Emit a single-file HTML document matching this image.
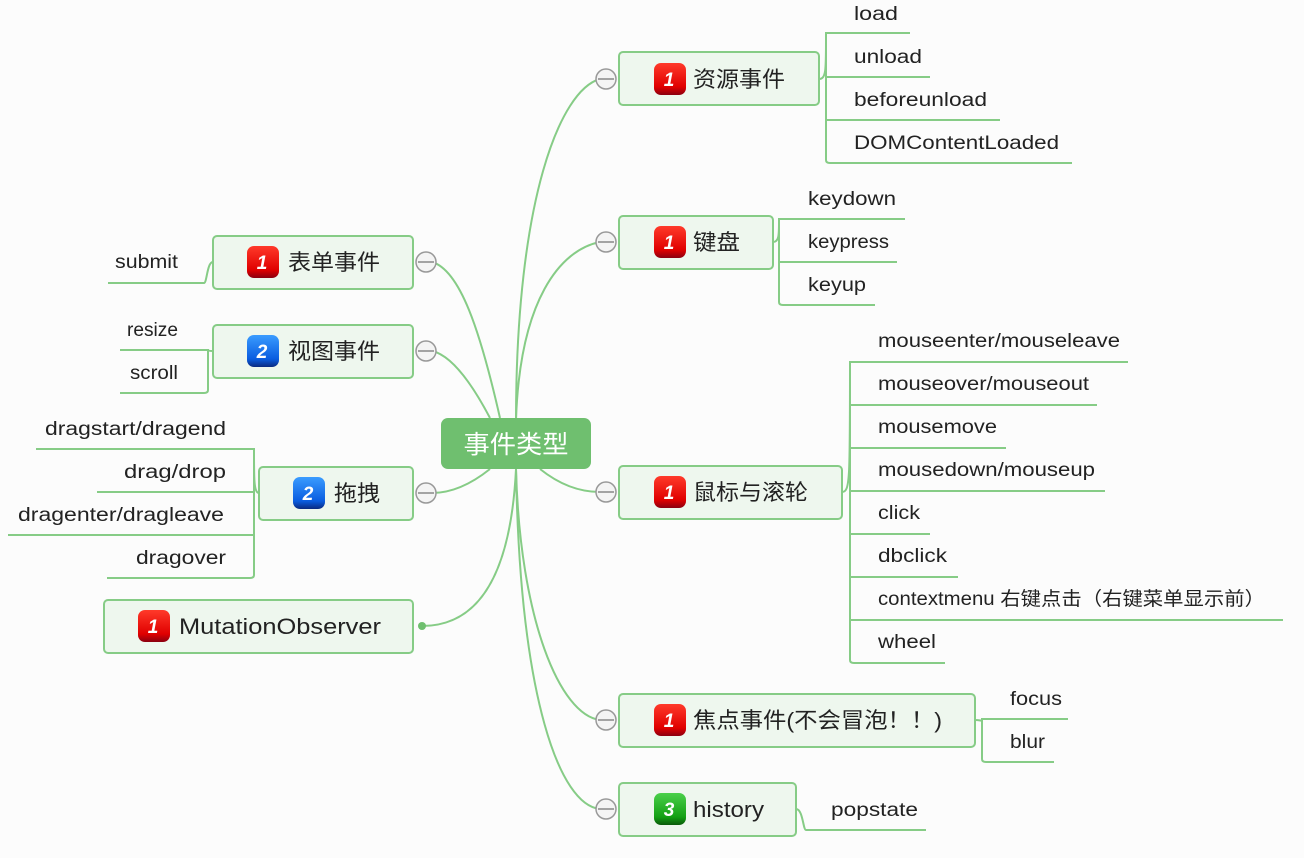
<!DOCTYPE html>
<html><head><meta charset="utf-8"><style>
html,body{margin:0;padding:0;background:#fcfcfc;}
svg{display:block;font-family:"Liberation Sans","Noto Sans CJK SC",sans-serif;}
.l{fill:none;stroke:#86cc86;stroke-width:2;}
.n{fill:#eef7ee;stroke:#86cc86;stroke-width:2;}
.t{font-size:22px;fill:#222;}
.s{font-size:19px;fill:#222;}
.c{fill:#f4f4f4;stroke:#999;stroke-width:1.5;}
.i{font-size:19px;font-style:italic;fill:#fff;font-weight:bold;text-anchor:middle;}
</style></head><body>
<svg width="1304" height="858" viewBox="0 0 1304 858">
<defs>
<linearGradient id="r" x1="0" y1="0" x2="0" y2="1"><stop offset="0" stop-color="#ff3a2a"/><stop offset="0.75" stop-color="#e00000"/><stop offset="1" stop-color="#8a0010"/></linearGradient>
<linearGradient id="b" x1="0" y1="0" x2="0" y2="1"><stop offset="0" stop-color="#3a9cff"/><stop offset="0.75" stop-color="#0a5de0"/><stop offset="1" stop-color="#0a2a80"/></linearGradient>
<linearGradient id="g" x1="0" y1="0" x2="0" y2="1"><stop offset="0" stop-color="#4ad04a"/><stop offset="0.75" stop-color="#14a014"/><stop offset="1" stop-color="#0a5a0a"/></linearGradient>
</defs>
<g class="l">
<path d="M516 420 C516 200 560 90 600 79"/>
<path d="M516 420 C520 300 560 250 600 242"/>
<path d="M540 469 C560 485 580 492 600 492"/>
<path d="M516 469 C520 620 560 715 600 720"/>
<path d="M516 469 C520 700 560 805 600 809"/>
<path d="M500 418 C480 330 460 270 432 262"/>
<path d="M490 418 C470 380 450 355 432 351"/>
<path d="M490 469 C470 485 450 493 432 493"/>
<path d="M516 469 C510 590 470 626 422 626"/>
</g>
<rect x="441" y="418" width="150" height="51" rx="7" fill="#6fbf6f"/>
<text x="516" y="453" font-size="25" fill="#fff" text-anchor="middle" textLength="105" lengthAdjust="spacingAndGlyphs">事件类型</text>

<rect class="n" x="619" y="52" width="200" height="53" rx="4"/>
<rect class="n" x="619" y="216" width="154" height="53" rx="4"/>
<rect class="n" x="619" y="466" width="223" height="53" rx="4"/>
<rect class="n" x="619" y="694" width="356" height="53" rx="4"/>
<rect class="n" x="619" y="783" width="177" height="53" rx="4"/>
<rect class="n" x="213" y="236" width="200" height="53" rx="4"/>
<rect class="n" x="213" y="325" width="200" height="53" rx="4"/>
<rect class="n" x="259" y="467" width="154" height="53" rx="4"/>
<rect class="n" x="104" y="600" width="309" height="53" rx="4"/>

<g>
<circle class="c" cx="606" cy="79" r="10"/><line x1="598" y1="79" x2="614" y2="79" stroke="#888" stroke-width="1.5"/>
<circle class="c" cx="606" cy="242" r="10"/><line x1="598" y1="242" x2="614" y2="242" stroke="#888" stroke-width="1.5"/>
<circle class="c" cx="606" cy="492" r="10"/><line x1="598" y1="492" x2="614" y2="492" stroke="#888" stroke-width="1.5"/>
<circle class="c" cx="606" cy="720" r="10"/><line x1="598" y1="720" x2="614" y2="720" stroke="#888" stroke-width="1.5"/>
<circle class="c" cx="606" cy="809" r="10"/><line x1="598" y1="809" x2="614" y2="809" stroke="#888" stroke-width="1.5"/>
<circle class="c" cx="426" cy="262" r="10"/><line x1="418" y1="262" x2="434" y2="262" stroke="#888" stroke-width="1.5"/>
<circle class="c" cx="426" cy="351" r="10"/><line x1="418" y1="351" x2="434" y2="351" stroke="#888" stroke-width="1.5"/>
<circle class="c" cx="426" cy="493" r="10"/><line x1="418" y1="493" x2="434" y2="493" stroke="#888" stroke-width="1.5"/>
<circle cx="422" cy="626" r="4" fill="#6fbf6f"/>
</g>

<rect x="654" y="63" width="32" height="32" rx="7" fill="url(#r)"/><text class="i" x="669" y="86">1</text><text class="t" x="693" y="87" textLength="92" lengthAdjust="spacingAndGlyphs">资源事件</text>
<rect x="654" y="226" width="32" height="32" rx="7" fill="url(#r)"/><text class="i" x="669" y="249">1</text><text class="t" x="693" y="250" textLength="47" lengthAdjust="spacingAndGlyphs">键盘</text>
<rect x="654" y="476" width="32" height="32" rx="7" fill="url(#r)"/><text class="i" x="669" y="499">1</text><text class="t" x="693" y="500" textLength="115" lengthAdjust="spacingAndGlyphs">鼠标与滚轮</text>
<rect x="654" y="704" width="32" height="32" rx="7" fill="url(#r)"/><text class="i" x="669" y="727">1</text><text class="t" x="693" y="728" textLength="249" lengthAdjust="spacingAndGlyphs">焦点事件(不会冒泡！！)</text>
<rect x="654" y="793" width="32" height="32" rx="7" fill="url(#g)"/><text class="i" x="669" y="816">3</text><text class="t" x="693" y="817" textLength="71" lengthAdjust="spacingAndGlyphs">history</text>
<rect x="247" y="246" width="32" height="32" rx="7" fill="url(#r)"/><text class="i" x="262" y="269">1</text><text class="t" x="288" y="270" textLength="92" lengthAdjust="spacingAndGlyphs">表单事件</text>
<rect x="247" y="335" width="32" height="32" rx="7" fill="url(#b)"/><text class="i" x="262" y="358">2</text><text class="t" x="288" y="359" textLength="92" lengthAdjust="spacingAndGlyphs">视图事件</text>
<rect x="293" y="477" width="32" height="32" rx="7" fill="url(#b)"/><text class="i" x="308" y="500">2</text><text class="t" x="334" y="501" textLength="46" lengthAdjust="spacingAndGlyphs">拖拽</text>
<rect x="138" y="610" width="32" height="32" rx="7" fill="url(#r)"/><text class="i" x="153" y="633">1</text><text class="t" x="179" y="634" textLength="202" lengthAdjust="spacingAndGlyphs">MutationObserver</text>

<g class="l">
<path d="M819 79 C826 79 826 70 826 40 L826 33 L910 33"/>
<path d="M826 40 L826 160 Q826 163 830 163 L1072 163"/>
<path d="M826 77 L930 77 M826 120 L1000 120"/>
<path d="M773 242 C779 242 779 235 779 222 L779 219 L905 219 M779 222 L779 302 Q779 305 783 305 L875 305 M779 262 L897 262"/>
<path d="M842 492 C850 492 850 480 850 365 L850 362 L1128 362 M850 365 L850 660 Q850 663 854 663 L945 663"/>
<path d="M850 405 L1097 405 M850 448 L1006 448 M850 491 L1105 491 M850 534 L930 534 M850 577 L958 577 M850 620 L1283 620"/>
<path d="M975 720 C982 720 982 722 982 719 L1068 719 M982 719 L982 759 Q982 762 986 762 L1054 762"/>
<path d="M796 809 C803 809 803 830 806 830 L926 830"/>
</g>
<g class="s" lengthAdjust="spacingAndGlyphs">
<text x="854" y="20" textLength="44" lengthAdjust="spacingAndGlyphs">load</text><text x="854" y="63" textLength="68" lengthAdjust="spacingAndGlyphs">unload</text><text x="854" y="106" textLength="133" lengthAdjust="spacingAndGlyphs">beforeunload</text><text x="854" y="149" textLength="205" lengthAdjust="spacingAndGlyphs">DOMContentLoaded</text>
<text x="808" y="205" textLength="88" lengthAdjust="spacingAndGlyphs">keydown</text><text x="808" y="248" textLength="81" lengthAdjust="spacingAndGlyphs">keypress</text><text x="808" y="291" textLength="58" lengthAdjust="spacingAndGlyphs">keyup</text>
<text x="878" y="347" textLength="242" lengthAdjust="spacingAndGlyphs">mouseenter/mouseleave</text><text x="878" y="390" textLength="211" lengthAdjust="spacingAndGlyphs">mouseover/mouseout</text><text x="878" y="433" textLength="119" lengthAdjust="spacingAndGlyphs">mousemove</text><text x="878" y="476" textLength="217" lengthAdjust="spacingAndGlyphs">mousedown/mouseup</text><text x="878" y="519" textLength="42" lengthAdjust="spacingAndGlyphs">click</text><text x="878" y="562" textLength="69" lengthAdjust="spacingAndGlyphs">dbclick</text><text x="878" y="605" textLength="387" lengthAdjust="spacingAndGlyphs">contextmenu  右键点击（右键菜单显示前）</text><text x="878" y="648" textLength="58" lengthAdjust="spacingAndGlyphs">wheel</text>
<text x="1010" y="705" textLength="52" lengthAdjust="spacingAndGlyphs">focus</text><text x="1010" y="748" textLength="35" lengthAdjust="spacingAndGlyphs">blur</text>
<text x="831" y="816" textLength="87" lengthAdjust="spacingAndGlyphs">popstate</text>
</g>
<g class="l">
<path d="M213 262 C207 262 207 283 204 283 L108 283"/>
<path d="M213 351 C208 351 208 350 208 350 L120 350 M208 350 L208 390 Q208 393 204 393 L120 393"/>
<path d="M259 493 C254 493 254 480 254 452 L254 449 L36 449 M254 452 L254 575 Q254 578 250 578 L107 578 M254 492 L97 492 M254 535 L8 535"/>
</g>
<g class="s">
<text x="115" y="268" textLength="63" lengthAdjust="spacingAndGlyphs">submit</text>
<text x="127" y="336" textLength="51" lengthAdjust="spacingAndGlyphs">resize</text><text x="130" y="379" textLength="48" lengthAdjust="spacingAndGlyphs">scroll</text>
<text x="45" y="435" textLength="181" lengthAdjust="spacingAndGlyphs">dragstart/dragend</text><text x="124" y="478" textLength="102" lengthAdjust="spacingAndGlyphs">drag/drop</text><text x="18" y="521" textLength="206" lengthAdjust="spacingAndGlyphs">dragenter/dragleave</text><text x="136" y="564" textLength="90" lengthAdjust="spacingAndGlyphs">dragover</text>
</g>
</svg>
</body></html>
